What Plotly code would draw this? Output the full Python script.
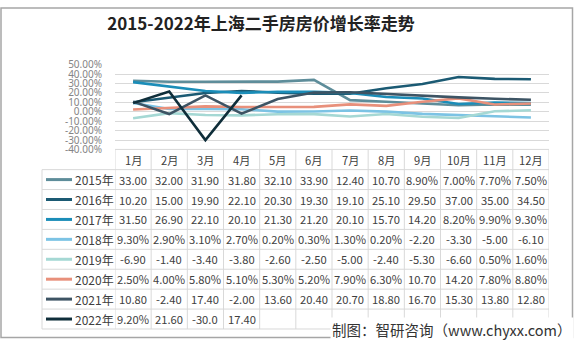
import plotly.graph_objects as go

W, H = 574, 345

months = ["1月", "2月", "3月", "4月", "5月", "6月", "7月", "8月", "9月", "10月", "11月", "12月"]
years = ["2015年", "2016年", "2017年", "2018年", "2019年", "2020年", "2021年", "2022年"]

# table text exactly as shown (values are percent growth)
t2015 = ["33.00", "32.00", "31.90", "31.80", "32.10", "33.90", "12.40", "10.70", "8.90%", "7.00%", "7.70%", "7.50%"]
t2016 = ["10.20", "15.00", "19.90", "22.10", "20.30", "19.30", "19.10", "25.10", "29.50", "37.00", "35.00", "34.50"]
t2017 = ["31.50", "26.90", "22.10", "20.10", "21.30", "21.20", "20.10", "15.70", "14.20", "8.20%", "9.90%", "9.30%"]
t2018 = ["9.30%", "2.90%", "3.10%", "2.70%", "0.20%", "0.30%", "1.30%", "0.20%", "-2.20", "-3.30", "-5.00", "-6.10"]
t2019 = ["-6.90", "-1.40", "-3.40", "-3.80", "-2.60", "-2.50", "-5.00", "-2.40", "-5.30", "-6.60", "0.50%", "1.60%"]
t2020 = ["2.50%", "4.00%", "5.80%", "5.10%", "5.30%", "5.20%", "7.90%", "6.30%", "10.70", "14.20", "7.80%", "8.80%"]
t2021 = ["10.80", "-2.40", "17.40", "-2.00", "13.60", "20.40", "20.70", "18.80", "16.70", "15.30", "13.80", "12.80"]
t2022 = ["9.20%", "21.60", "-30.0", "17.40"]

table_rows = [t2015, t2016, t2017, t2018, t2019, t2020, t2021, t2022]
colors = ["#5E8D9A", "#1B5A73", "#1B8DB8", "#7CC3E4", "#A5D8D4", "#E8907B", "#3D5464", "#0F2E3A"]

y_ticks = [50, 40, 30, 20, 10, 0, -10, -20, -30, -40]


def px(x):
    return x / W


def py(y):
    return 1 - y / H


fig = go.Figure()
for name, row, c in zip(years, table_rows, colors):
    vals = [float(s.rstrip("%")) for s in row]
    fig.add_trace(go.Scatter(x=list(range(len(vals))), y=vals, mode="lines", name=name,
                             line=dict(color=c, width=2.6), showlegend=False, hoverinfo="skip"))

plot_l, plot_r = 115, 549
plot_t, plot_b = 60, 148

fig.update_layout(
    width=W, height=H, autosize=False,
    margin=dict(l=0, r=0, t=0, b=0, pad=0),
    paper_bgcolor="white", plot_bgcolor="white",
    title=dict(text="<b>2015-2022年上海二手房房价增长率走势</b>", x=px(261), y=py(24),
               xanchor="center", yanchor="middle",
               font=dict(family="Noto Sans CJK SC", size=17, color="#222222")),
    xaxis=dict(domain=[px(plot_l), px(plot_r)], range=[-0.5, 11.5], showticklabels=False,
               showgrid=False, zeroline=False, showline=False, fixedrange=True),
    yaxis=dict(domain=[py(plot_b), py(plot_t)], range=[-40, 50], tickvals=y_ticks,
               ticktext=[f"{v:.2f}%" for v in y_ticks], showgrid=True, gridcolor="#D9D9D9",
               gridwidth=1, zeroline=False, showline=False, ticks="", ticklabelstandoff=12,
               tickfont=dict(family="Noto Sans", size=10, color="#858585")),
    font=dict(family="Noto Sans CJK SC"),
)

shapes = []
ann = []
grid_c = "#D9D9D9"
tbl_top = 148
hdr_bot = 169
row_h = 20.7
tbl_left = 42
tbl_bot = hdr_bot + row_h * len(years)

# vertical lines of month columns
for k in range(13):
    shapes.append(dict(type="line", xref="x", yref="paper", x0=k - 0.5, x1=k - 0.5,
                       y0=py(tbl_top), y1=py(tbl_bot), line=dict(color=grid_c, width=1)))
# left border of legend column
shapes.append(dict(type="line", xref="paper", yref="paper", x0=px(tbl_left), x1=px(tbl_left),
                   y0=py(hdr_bot), y1=py(tbl_bot), line=dict(color=grid_c, width=1)))
# header top line
shapes.append(dict(type="line", xref="x", yref="paper", x0=-0.5, x1=11.5,
                   y0=py(tbl_top), y1=py(tbl_top), line=dict(color=grid_c, width=1)))
# row lines
for r in range(len(years) + 1):
    yy = hdr_bot + r * row_h
    shapes.append(dict(type="line", xref="paper", yref="paper", x0=px(tbl_left), x1=px(plot_r),
                       y0=py(yy), y1=py(yy), line=dict(color=grid_c, width=1)))

tfont = dict(family="Noto Sans CJK SC", size=11.2, color="#404040")
for i, m in enumerate(months):
    ann.append(dict(xref="x", yref="paper", x=i, y=py((tbl_top + hdr_bot) / 2), text=m,
                    showarrow=False, xanchor="center", yanchor="middle", font=tfont))

for r, (name, row, c) in enumerate(zip(years, table_rows, colors)):
    yc = hdr_bot + row_h * (r + 0.5)
    shapes.append(dict(type="line", xref="paper", yref="paper", x0=px(46), x1=px(72),
                       y0=py(yc), y1=py(yc), line=dict(color=c, width=3)))
    ann.append(dict(xref="paper", yref="paper", x=px(72.5), y=py(yc), text=name, showarrow=False,
                    xanchor="left", yanchor="middle", font=dict(family="Noto Sans CJK SC", size=12, color="#404040")))
    for i, s in enumerate(row):
        ann.append(dict(xref="x", yref="paper", x=i, y=py(yc), text=s, showarrow=False,
                        xanchor="center", yanchor="middle", font=tfont))

ann.append(dict(xref="paper", yref="paper", x=px(574), y=py(335), text="制图：智研咨询（www.chyxx.com）",
                showarrow=False, xanchor="right", yanchor="middle", bgcolor="white",
                font=dict(family="Noto Sans CJK SC", size=14.5, color="#333333")))

# outer border
shapes.append(dict(type="rect", xref="paper", yref="paper", x0=px(1), x1=px(572.5), y0=py(343.5), y1=py(1),
                   line=dict(color="#A6A6A6", width=1.5), fillcolor="rgba(0,0,0,0)"))

fig.update_layout(shapes=shapes, annotations=ann)
fig.write_html("out.html")
